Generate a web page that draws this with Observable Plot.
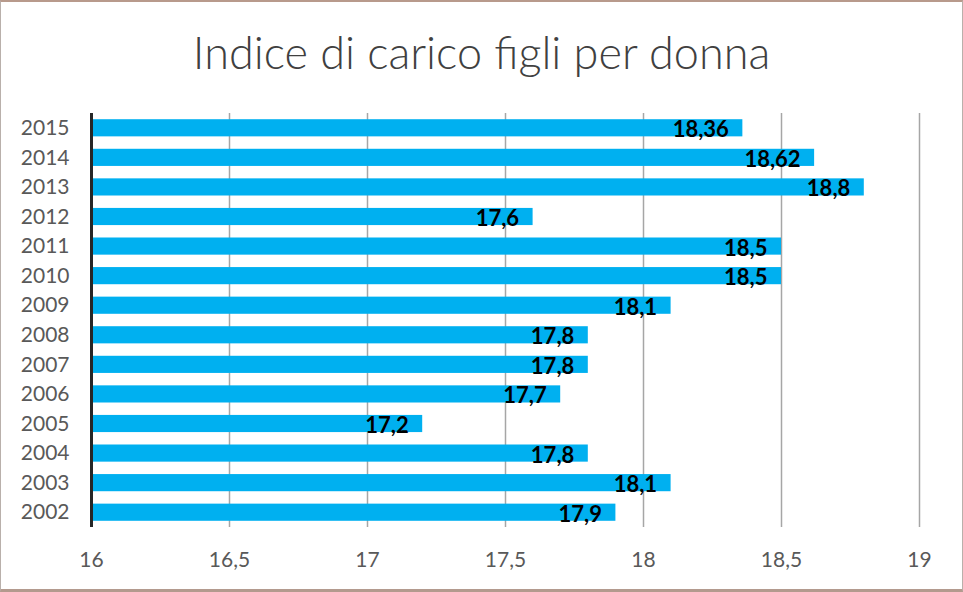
<!DOCTYPE html>
<html><head><meta charset="utf-8">
<script src="https://cdn.jsdelivr.net/npm/d3@7"></script>
<script src="https://cdn.jsdelivr.net/npm/@observablehq/plot@0.6"></script>
<style>
html,body{margin:0;padding:0;background:#fff;}
#wrap{position:relative;width:963px;height:592px;box-sizing:border-box;border:1px solid #b9b0ab;border-top:2px solid #b89a8c;border-bottom:3px solid #b39a8e;overflow:hidden;font-family:Lato,"Open Sans",sans-serif;}
#title{height:89px;line-height:100px;text-align:center;font-size:45px;font-weight:300;color:#404040;font-family:Lato,sans-serif;}
#chart svg{display:block;}
</style></head>
<body><div id="wrap"><div id="title">Indice di carico figli per donna</div><div id="chart"></div></div>
<script>
const years = ["2002","2003","2004","2005","2006","2007","2008","2009","2010","2011","2012","2013","2014","2015"];
const values = [17.9,18.1,17.8,17.2,17.7,17.8,17.8,18.1,18.5,18.5,17.6,18.8,18.62,18.36];
const xTicks = [16,16.5,17,17.5,18,18.5,19];
const baseline = 16;
const data = years.map((y,i)=>({year:y, value:values[i]}));
const fmt = v => String(v).replace(".", ",");
const plot = Plot.plot({
  width: 961, height: 498,
  marginTop: 22, marginBottom: 62, marginLeft: 90, marginRight: 43,
  style: {fontFamily: "Lato, sans-serif", fontSize: "21px", color: "#595959", background: "transparent"},
  x: {domain: [16,19], ticks: xTicks, tickFormat: fmt, tickSize: 0, tickPadding: 25, label: null},
  y: {domain: years.slice().reverse(), paddingInner: 0.42, paddingOuter: 0.21, round: false, tickSize: 0, tickPadding: 22, label: null},
  marks: [
    Plot.gridX(xTicks.slice(1), {stroke: "#a6a6a6", strokeOpacity: 1, strokeWidth: 1.5}),
    Plot.barX(data, {y: "year", x1: baseline, x2: "value", fill: "#00b0f0"}),
    Plot.text(data, {y: "year", x: "value", text: d => fmt(d.value), textAnchor: "end", dx: -14, dy: 2, fill: "#000", fontWeight: "bold", fontSize: 22}),
    Plot.ruleX([baseline], {stroke: "#262626", strokeWidth: 3}),
    Plot.axisX({ticks: xTicks, tickFormat: fmt, tickSize: 0, tickPadding: 25, fill: "#595959", fontSize: 21}),
    Plot.axisY({tickSize: 0, tickPadding: 22, fill: "#595959", fontSize: 21})
  ]
});
document.getElementById("chart").appendChild(plot);
</script></body></html>
